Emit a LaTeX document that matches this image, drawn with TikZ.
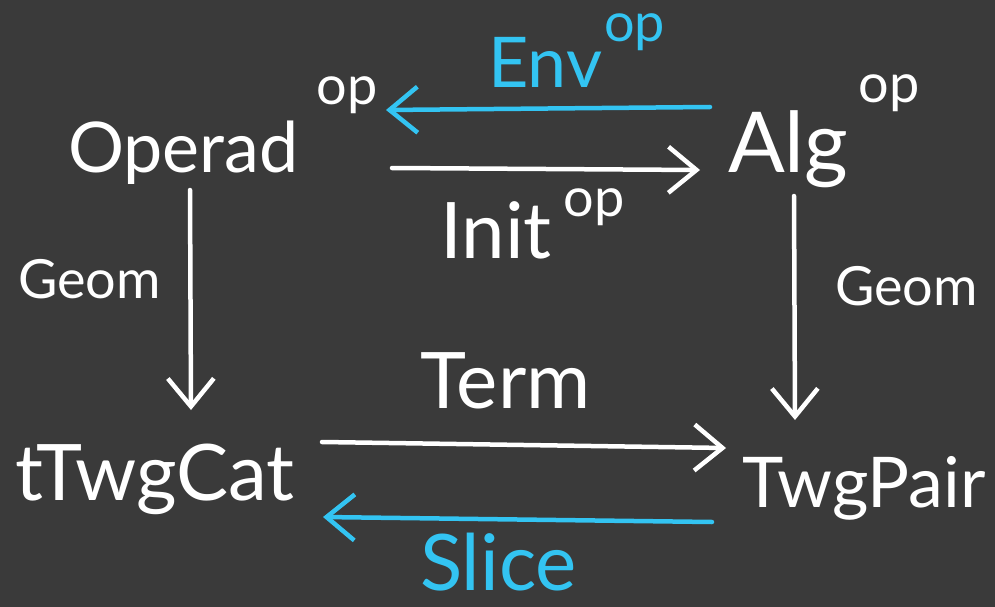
\documentclass[tikz,border=0pt]{standalone}
\usepackage{fontspec}
\setmainfont{Lato}
\usetikzlibrary{arrows.meta}
\definecolor{bg}{HTML}{3A3A3A}
\definecolor{sky}{HTML}{33C4F2}
\newcommand{\opsup}[2]{\hspace{#1}\raisebox{#2}{\fontsize{54}{58}\selectfont op}}
\tikzset{
  lbl/.style={text=white, inner sep=0pt, anchor=base west},
  big/.style={font=\fontsize{70}{74}\selectfont},
  huge/.style={font=\fontsize{78}{82}\selectfont},
  mid/.style={font=\fontsize{54}{58}\selectfont},
  arr/.style={draw=white, line width=4.5pt, line cap=round, line join=round,
    -{Straight Barb[length=28pt,width=46pt,line width=4.5pt]}},
  bluetext/.style={text=sky}
}
\begin{document}
\begin{tikzpicture}[x=1pt,y=-1pt]
\fill[bg] (0,0) rectangle (995,607);
\useasboundingbox (0,0) rectangle (995,607);
% objects
\node[lbl,big] (operad) at (68,172) {Operad\opsup{18pt}{68pt}};
\node[lbl,font=\fontsize{84}{88}\selectfont] (alg) at (728,172) {Alg\opsup{10pt}{70pt}};
\node[lbl,huge] (tcat) at (15,500) {tTwgCat};
\node[lbl,big] (pair) at (742,507) {TwgPair};
% labels
\node[lbl,big,bluetext] (env) at (488,88) {Env\opsup{2pt}{46pt}};
\node[lbl,huge] (init) at (440,258) {Init\opsup{12pt}{42pt}};
\node[lbl,mid] (geoml) at (18,298) {Geom};
\node[lbl,mid] (geomr) at (835,305) {Geom};
\node[lbl,huge] (term) at (420,408) {Term};
\node[lbl,huge,bluetext] (slice) at (420,590) {Slice};
% connector ends
\coordinate (a1s) at (710,107); \coordinate (a1e) at (386,110);
\coordinate (a2s) at (392,168); \coordinate (a2e) at (700,170);
\coordinate (a3s) at (190,190); \coordinate (a3e) at (191,410);
\coordinate (a4s) at (794,196); \coordinate (a4e) at (795,420);
\coordinate (a5s) at (322,442); \coordinate (a5e) at (726,448);
\coordinate (a6s) at (712,522); \coordinate (a6e) at (323,517);
\draw[arr,draw=sky] (a1s) -- (a1e);
\draw[arr] (a2s) -- (a2e);
\draw[arr] (a3s) -- (a3e);
\draw[arr] (a4s) -- (a4e);
\draw[arr] (a5s) -- (a5e);
\draw[arr,draw=sky] (a6s) -- (a6e);
\end{tikzpicture}
\end{document}
